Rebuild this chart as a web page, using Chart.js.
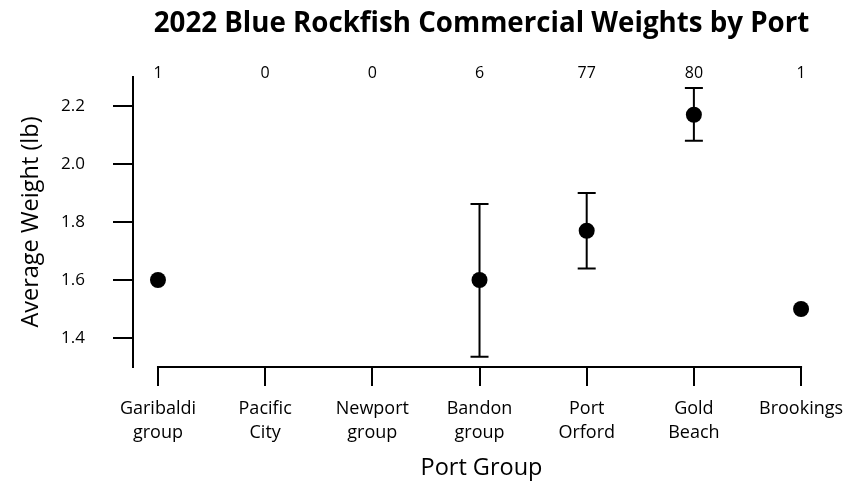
<!DOCTYPE html>
<html>
<head>
<meta charset="utf-8">
<script src="https://cdn.jsdelivr.net/npm/chart.js@4.4.0/dist/chart.umd.min.js"></script>
<style>
  html, body { margin: 0; padding: 0; background: #fff; }
  #wrap { width: 850px; height: 482px; }
</style>
</head>
<body>
<div id="wrap"><canvas id="c" width="850" height="482"></canvas></div>
<script>
const chartTitle = "2022 Blue Rockfish Commercial Weights by Port";
const xTitle = "Port Group";
const yTitle = "Average Weight (lb)";
const categories = [["Garibaldi", "group"], ["Pacific", "City"], ["Newport", "group"], ["Bandon", "group"], ["Port", "Orford"], ["Gold", "Beach"], ["Brookings"]];
const meanWeights = [1.60, null, null, 1.60, 1.77, 2.17, 1.50];
const lowerBounds = [null, null, null, 1.335, 1.64, 2.08, null];
const upperBounds = [null, null, null, 1.862, 1.90, 2.262, null];
const sampleCounts = [1, 0, 0, 6, 77, 80, 1];
const yTicks = [1.4, 1.6, 1.8, 2.0, 2.2];

const FONT = "'Open Sans', 'Noto Sans', sans-serif";

const points = meanWeights
  .map((v, i) => ({ x: i, y: v }))
  .filter(p => p.y !== null);

const extrasPlugin = {
  id: 'extras',
  afterLayout(chart) {
    const t = chart.titleBlock;
    if (t) { t.left = chart.chartArea.left; t.right = chart.chartArea.right; }
  },
  beforeDatasetsDraw(chart) {
    const ctx = chart.ctx, xs = chart.scales.x, ys = chart.scales.y;
    ctx.save();
    ctx.strokeStyle = '#000';
    ctx.lineWidth = 2;
    // x axis line from first to last category
    ctx.beginPath();
    ctx.moveTo(xs.getPixelForValue(0) - 1, chart.chartArea.bottom);
    ctx.lineTo(xs.getPixelForValue(categories.length - 1) + 1, chart.chartArea.bottom);
    ctx.stroke();
    // error bars
    for (let i = 0; i < categories.length; i++) {
      if (lowerBounds[i] === null || upperBounds[i] === null) continue;
      const px = xs.getPixelForValue(i);
      const lo = ys.getPixelForValue(lowerBounds[i]);
      const hi = ys.getPixelForValue(upperBounds[i]);
      const cap = 9;
      ctx.beginPath();
      ctx.moveTo(px, lo); ctx.lineTo(px, hi);
      ctx.moveTo(px - cap, lo); ctx.lineTo(px + cap, lo);
      ctx.moveTo(px - cap, hi); ctx.lineTo(px + cap, hi);
      ctx.stroke();
    }
    ctx.restore();
  },
  afterDraw(chart) {
    const ctx = chart.ctx, xs = chart.scales.x;
    ctx.save();
    ctx.fillStyle = '#000';
    ctx.font = "16px " + FONT;
    ctx.textAlign = 'center';
    ctx.textBaseline = 'middle';
    for (let i = 0; i < categories.length; i++) {
      ctx.fillText(String(sampleCounts[i]), xs.getPixelForValue(i), chart.chartArea.top - 4);
    }
    ctx.restore();
  }
};

new Chart(document.getElementById('c'), {
  type: 'scatter',
  data: {
    datasets: [{
      data: points,
      pointRadius: 8,
      pointHoverRadius: 8,
      pointBackgroundColor: '#000',
      pointBorderColor: '#000',
      pointBorderWidth: 0,
      showLine: false
    }]
  },
  options: {
    responsive: false,
    animation: false,
    events: [],
    layout: { padding: { left: 0, right: 20, top: 0, bottom: 0 } },
    plugins: {
      legend: { display: false },
      tooltip: { enabled: false },
      title: {
        display: true,
        text: chartTitle,
        color: '#000',
        font: { family: FONT, size: 27.7, weight: 'bold', lineHeight: 1.2 },
        padding: { top: 7, bottom: 36.8 }
      }
    },
    scales: {
      x: {
        type: 'linear',
        min: -0.233,
        max: 6.27,
        afterBuildTicks(scale) { scale.ticks = categories.map((c, i) => ({ value: i })); },
        afterFit(scale) { scale.height = 115; scale.paddingLeft = 0; scale.paddingRight = 0; },
        ticks: {
          autoSkip: false,
          maxRotation: 0,
          minRotation: 0,
          color: '#000',
          padding: 11,
          font: { family: FONT, size: 18, lineHeight: 1.333 },
          callback: (v) => categories[v]
        },
        grid: { display: true, drawOnChartArea: false, drawTicks: true, tickLength: 19, color: '#000', lineWidth: 2 },
        border: { display: false },
        title: {
          display: true,
          text: xTitle,
          color: '#000',
          font: { family: FONT, size: 23.5, lineHeight: 1.0 },
          padding: { top: 0, bottom: 2 }
        }
      },
      y: {
        type: 'linear',
        min: 1.3,
        max: 2.3,
        afterBuildTicks(scale) { scale.ticks = yTicks.map(v => ({ value: v })); },
        afterFit(scale) { scale.width = 133; },
        ticks: {
          color: '#000',
          padding: 28,
          font: { family: FONT, size: 17 },
          callback: (v) => Number(v).toFixed(1)
        },
        grid: { display: true, drawOnChartArea: false, drawTicks: true, tickLength: 20, color: '#000', lineWidth: 2 },
        border: { display: true, color: '#000', width: 2 },
        title: {
          display: true,
          text: yTitle,
          color: '#000',
          font: { family: FONT, size: 23.5, lineHeight: 1.0 },
          padding: { top: 20, bottom: 0 }
        }
      }
    }
  },
  plugins: [extrasPlugin]
});
</script>
</body>
</html>
